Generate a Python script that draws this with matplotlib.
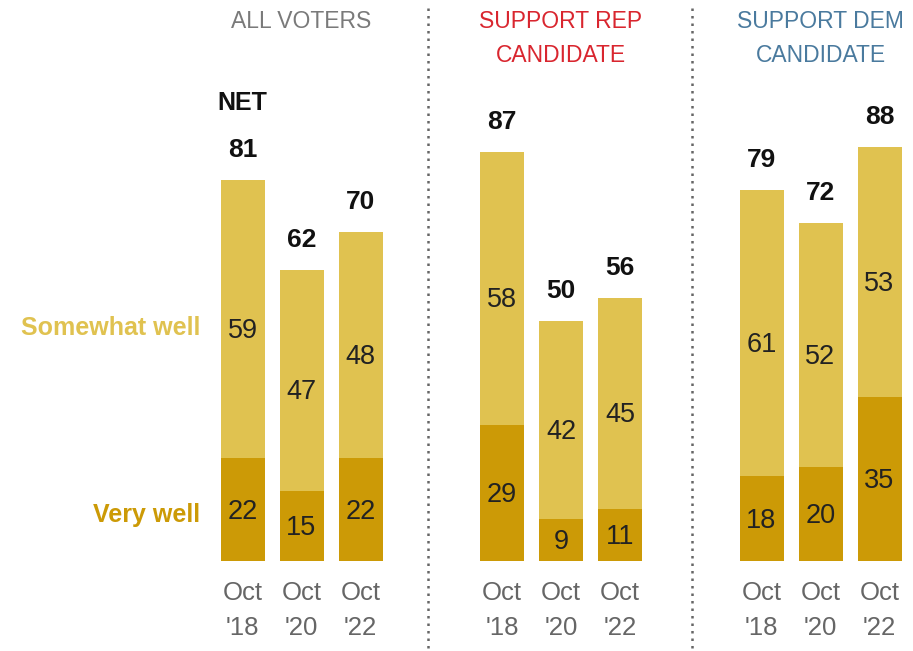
import matplotlib
matplotlib.use("Agg")
import matplotlib.pyplot as plt

plt.rcParams["font.family"] = ["Liberation Sans", "DejaVu Sans"]

# survey groups and years
groups = ["ALL VOTERS", "SUPPORT REP\nCANDIDATE", "SUPPORT DEM\nCANDIDATE"]
group_colors = ["#7a7a7a", "#d9262f", "#4a7a9e"]
years = ["Oct\n'18", "Oct\n'20", "Oct\n'22"]

very_well = [[22, 15, 22], [29, 9, 11], [18, 20, 35]]
somewhat_well = [[59, 47, 48], [58, 42, 45], [61, 52, 53]]
net = [[81, 62, 70], [87, 50, 56], [79, 72, 88]]

LIGHT = "#e0c250"
DARK = "#cc9a06"

W, H = 913, 651
PX_PER_UNIT = 4.70
BASE_PX = 90  # baseline height from the bottom, in pixels

fig = plt.figure(figsize=(W / 100, H / 100), dpi=100)
ax = fig.add_axes([0, 0, 1, 1])
ax.set_xlim(0, W)
ax.set_ylim(-BASE_PX / PX_PER_UNIT, (H - BASE_PX) / PX_PER_UNIT)
ax.axis("off")


def yval(px_from_top):
    return (H - BASE_PX - px_from_top) / PX_PER_UNIT


bar_w = 44
for g in range(len(groups)):
    xs = [242.5 + g * 259.5 + i * 59 for i in range(len(years))]
    ax.bar(xs, very_well[g], width=bar_w, color=DARK, linewidth=0)
    ax.bar(xs, somewhat_well[g], width=bar_w, bottom=very_well[g],
           color=LIGHT, linewidth=0)
    for i, x in enumerate(xs):
        vw, sw, nt = very_well[g][i], somewhat_well[g][i], net[g][i]
        ax.text(x, vw / 2 - 0.5, str(vw), ha="center", va="center",
                fontsize=19.5, color="#222222")
        ax.text(x, vw + sw / 2 - 2.5, str(sw), ha="center", va="center",
                fontsize=19.5, color="#222222")
        ax.text(x, vw + sw + 6.4, str(nt), ha="center", va="center",
                fontsize=19, fontweight="bold", color="#111111")
        month, yr = years[i].split("\n")
        ax.text(x, yval(593), month, ha="center", va="center",
                fontsize=18.5, color="#666666")
        ax.text(x, yval(628), yr, ha="center", va="center",
                fontsize=18.5, color="#666666")
    # panel heading
    lines = groups[g].split("\n")
    cx = xs[1]
    for k, line in enumerate(lines):
        ax.text(cx, yval(22 + 34 * k), line, ha="center", va="center",
                fontsize=16.5, color=group_colors[g])

ax.text(242.5, yval(103), "NET", ha="center", va="center",
        fontsize=18, fontweight="bold", color="#111111")

# row labels on the left
ax.text(200, yval(328), "Somewhat well", ha="right", va="center",
        fontsize=18, fontweight="bold", color=LIGHT)
ax.text(200, yval(515), "Very well", ha="right", va="center",
        fontsize=18, fontweight="bold", color=DARK)

# dotted separators between panels
for xd in (428, 692):
    ax.plot([xd, xd], [yval(8), yval(651)], linestyle=(0, (1, 2)),
            color="#666666", linewidth=1.8)

fig.savefig("out.png", dpi=100)
